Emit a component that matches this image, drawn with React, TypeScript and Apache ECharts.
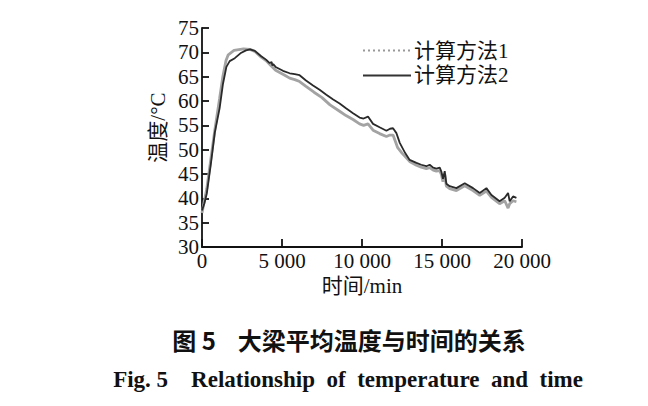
import React, { useEffect, useRef } from "react";
import * as echarts from "echarts";

const seriesNames = ["计算方法1", "计算方法2"];

const time1 = [0, 150, 300, 550, 800, 1100, 1300, 1500, 1640, 2000, 2600, 3000, 3300, 3700, 4000, 4300, 4600, 5170, 5480, 5800, 6100, 6500, 7000, 7500, 8000, 8600, 9000, 9440, 9850, 10100, 10375, 10690, 11100, 11525, 11750, 11940, 12230, 12500, 12860, 13000, 13400, 13700, 14020, 14230, 14450, 14650, 14860, 14960, 15060, 15170, 15270, 15480, 15900, 16420, 16940, 17360, 17775, 18090, 18600, 18920, 19130, 19230, 19440, 19650];
const temp1 = [37, 39.5, 42, 48, 54, 60.5, 65, 68.3, 69.5, 70.4, 70.7, 70.6, 70.2, 69.0, 68.3, 67.3, 66.3, 65.3, 64.7, 64.4, 64.0, 63.0, 61.8, 60.7, 59.2, 57.9, 57.0, 56.2, 55.3, 55.0, 55.3, 54.0, 53.3, 52.7, 53.0, 53.0, 50.4, 49.3, 48.0, 47.5, 46.8, 46.4, 46.1, 46.3, 45.8, 45.6, 45.7, 44.9, 43.4, 45.0, 42.5, 42.0, 41.6, 42.6, 41.6, 40.6, 41.5, 40.2, 38.9, 39.5, 38.0, 38.9, 39.5, 39.3];

const time2 = [0, 150, 300, 550, 800, 1100, 1310, 1525, 1730, 2050, 2400, 2750, 3000, 3300, 3700, 4000, 4230, 4350, 4400, 4450, 4600, 5060, 5480, 5800, 6100, 6500, 6940, 7350, 7770, 8200, 8600, 9000, 9440, 9850, 10100, 10375, 10690, 11100, 11525, 11750, 11940, 12150, 12360, 12700, 12980, 13400, 13700, 14020, 14230, 14450, 14650, 14860, 14960, 15060, 15170, 15270, 15480, 15900, 16420, 16940, 17360, 17775, 18090, 18600, 18920, 19130, 19230, 19440, 19650];
const temp2 = [37.5, 39, 41, 47, 53.5, 58.5, 63.5, 67, 68.2, 68.8, 69.8, 70.4, 70.6, 70.3, 69.2, 68.5, 67.8, 68.0, 67.3, 67.6, 67.0, 66.2, 65.7, 65.5, 65.3, 64.2, 63.2, 62.3, 61.3, 60.3, 59.5, 58.5, 57.5, 56.6, 56.4, 56.8, 55.3, 54.6, 53.9, 54.3, 54.4, 53.4, 51.4, 49.3, 47.9, 47.3, 46.9, 46.6, 46.9, 46.3, 46.1, 46.3, 45.5, 44.0, 45.6, 43.0, 42.5, 42.1, 43.1, 42.1, 41.1, 42.1, 40.7, 39.4, 40.1, 41.1, 39.4, 40.4, 40.1];

const captionCn = "图 5    大梁平均温度与时间的关系";
const captionEn = "Fig. 5    Relationship  of  temperature  and  time";
const xAxisName = "时间/min";
const yAxisName = "温度/°C";

const serif = "'Liberation Serif', 'Noto Sans CJK SC', serif";

const zip = (xs: number[], ys: number[]) => xs.map((x, i) => [x, ys[i]]);

export default function App() {
  const ref = useRef<HTMLDivElement>(null);
  useEffect(() => {
    if (!ref.current) return;
    const chart = echarts.init(ref.current, undefined, { renderer: "svg" });
    chart.setOption({
      animation: false,
      backgroundColor: "#ffffff",
      textStyle: { fontFamily: serif, color: "#111" },
      grid: { left: 202, right: 126, top: 28, bottom: 159, containLabel: false },
      legend: {
        orient: "vertical",
        left: 357,
        top: 35,
        itemWidth: 48,
        itemHeight: 14,
        itemGap: 4,
        textStyle: { fontFamily: serif, fontSize: 21, color: "#111", padding: [0, 0, 0, -2] },
        data: [
          {
            name: seriesNames[0],
            itemStyle: { opacity: 0 },
            lineStyle: { type: [2, 3], width: 2, color: "#999" },
          },
          {
            name: seriesNames[1],
            itemStyle: { opacity: 0 },
            lineStyle: { type: "solid", width: 2, color: "#333" },
          },
        ],
      },
      xAxis: {
        type: "value",
        min: 0,
        max: 20000,
        interval: 5000,
        name: xAxisName,
        nameLocation: "middle",
        nameGap: 28,
        nameTextStyle: { fontFamily: serif, fontSize: 21, color: "#111" },
        axisLine: { show: true, lineStyle: { color: "#111", width: 1.8 } },
        axisTick: { show: true, inside: true, length: 8, lineStyle: { color: "#111", width: 1.8 } },
        axisLabel: {
          fontFamily: serif,
          fontSize: 21,
          color: "#111",
          margin: 3,
          formatter: (v: number) => (v >= 1000 ? `${Math.floor(v / 1000)} ${String(v % 1000).padStart(3, "0")}` : String(v)),
        },
        splitLine: { show: false },
      },
      yAxis: {
        type: "value",
        min: 30,
        max: 75,
        interval: 5,
        name: yAxisName,
        nameLocation: "middle",
        nameRotate: 90,
        nameGap: 34,
        nameTextStyle: { fontFamily: serif, fontSize: 21, color: "#111", padding: [0, 0, 0, 20] },
        axisLine: { show: true, lineStyle: { color: "#111", width: 1.8 } },
        axisTick: { show: true, inside: true, length: 7, lineStyle: { color: "#111", width: 1.8 } },
        axisLabel: { fontFamily: serif, fontSize: 21, color: "#111", margin: 3 },
        splitLine: { show: false },
      },
      series: [
        {
          name: seriesNames[0],
          type: "line",
          symbol: "none",
          data: zip(time1, temp1),
          lineStyle: { color: "#a3a3a3", width: 2.8 },
          itemStyle: { color: "#a3a3a3" },
          z: 2,
        },
        {
          name: seriesNames[1],
          type: "line",
          symbol: "none",
          data: zip(time2, temp2),
          lineStyle: { color: "#2a2a2a", width: 1.8 },
          itemStyle: { color: "#2a2a2a" },
          z: 3,
        },
      ],
      graphic: [
        {
          type: "text",
          x: 349,
          y: 327,
          style: { text: captionCn, textAlign: "center", font: "bold 24px 'Noto Sans CJK SC', sans-serif", fill: "#111" },
        },
        {
          type: "text",
          x: 348,
          y: 368,
          style: { text: captionEn, textAlign: "center", font: "bold 23px 'Liberation Serif', serif", fill: "#111" },
        },
      ],
    });
    return () => chart.dispose();
  }, []);
  return <div ref={ref} style={{ width: 648, height: 406, position: "absolute", left: 0, top: 0 }} />;
}
